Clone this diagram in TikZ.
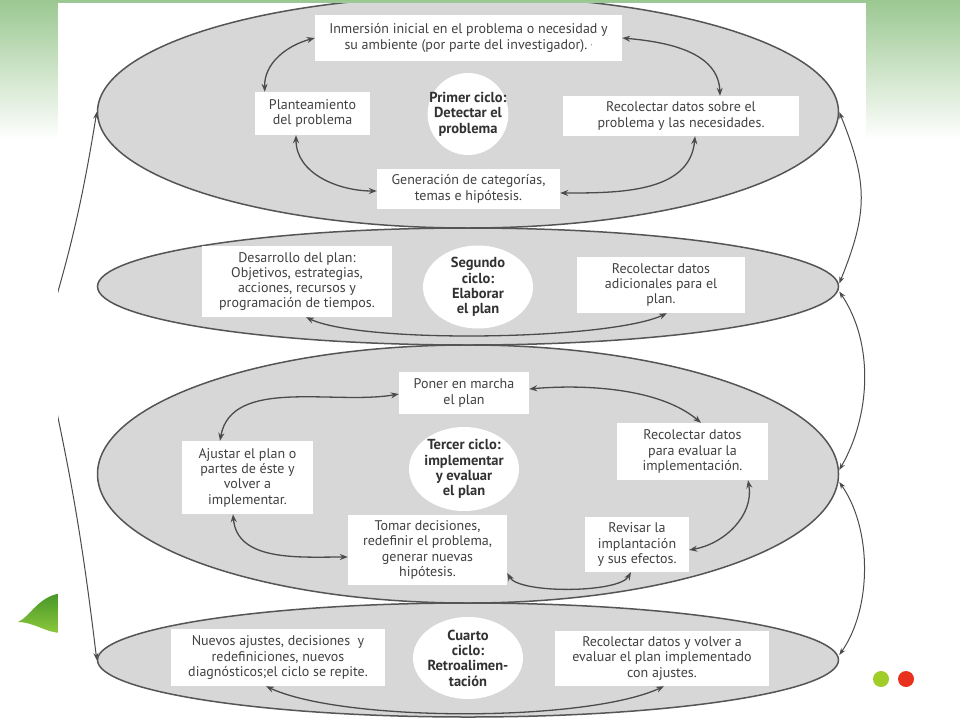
\documentclass[tikz,border=0pt]{standalone}
\usepackage{fontspec}
\setmainfont{PT Sans}
\usetikzlibrary{shapes.geometric,arrows.meta}
\definecolor{verdeslide}{RGB}{155,200,145}
\definecolor{folhaclara}{RGB}{140,200,60}
\definecolor{folhaescura}{RGB}{70,150,40}
\definecolor{bolaverde}{RGB}{160,205,40}
\definecolor{bolavermelha}{RGB}{232,50,30}
\definecolor{cinzaelipse}{RGB}{215,215,215}
\definecolor{cinzalinha}{RGB}{85,85,85}
\definecolor{cinzaseta}{RGB}{75,75,75}
\definecolor{cinzatexto}{RGB}{65,65,65}
\definecolor{cinzaforte}{RGB}{50,50,50}
\begin{document}
\begin{tikzpicture}[x=1pt,y=1pt,
    elipse/.style={ellipse,fill=cinzaelipse,draw=cinzalinha,line width=1.5pt,inner sep=0pt,minimum width=741pt},
    caixa/.style={rectangle,fill=white,inner sep=0pt,align=center,text=cinzatexto,font=\fontsize{14}{15.3}\selectfont},
    ciclo/.style={ellipse,fill=white,inner xsep=-10pt,inner ysep=-8pt,align=center,text=cinzaforte,font=\fontsize{14.5}{15.3}\selectfont\bfseries},
    seta/.style={<->,>={Stealth[length=8pt,width=6pt]},line width=1.3pt,draw=cinzaseta},
    volta/.style={<->,>={Stealth[length=7pt,width=5pt]},line width=1pt,draw=cinzaseta}]
    \useasboundingbox (0,0) rectangle (960,-720);
    % Fundo do slide
    \shade[top color=verdeslide,bottom color=white] (0,0) rectangle (960,-140);
    \shade[top color=folhaescura,bottom color=folhaclara] (18,-622) .. controls (30,-617) and (38,-596) .. (62,-593) -- (62,-633) .. controls (46,-633) and (34,-622) .. cycle;
    \fill[bolaverde] (881,-679) circle (8);
    \fill[bolavermelha] (906,-679) circle (8);
    \fill[white] (58,-3) rectangle (866,-720);
    \begin{scope}
    \clip (58,-3) rectangle (866,-720);
    % Define os ciclos
    \node[elipse,minimum height=232pt] (C1) at (468,-112) {};
    \node[elipse,minimum height=117pt] (C2) at (468,-286.5) {};
    \node[elipse,minimum height=258pt] (C3) at (468,-474) {};
    \node[elipse,minimum height=114pt] (C4) at (468,-660) {};
    \coordinate (Esq) at (42,-345);
    % Primer ciclo
    \node[caixa,minimum width=307pt,minimum height=46pt] (Inm) at (468.5,-38) {Inmersión inicial en el problema o necesidad y\\ su ambiente (por parte del investigador).~{\scriptsize'}};
    \node[caixa,minimum width=115pt,minimum height=43pt] (Pla) at (312.5,-113.5) {Planteamiento\\ del problema};
    \node[ciclo,minimum width=79pt,minimum height=82pt] (Pri) at (468,-114) {Primer ciclo:\\ Detectar el\\ problema};
    \node[caixa,minimum width=236pt,minimum height=40pt] (RecA) at (681,-116) {Recolectar datos sobre el\\ problema y las necesidades.};
    \node[caixa,minimum width=183pt,minimum height=40pt] (Gen) at (468.5,-189) {Generación de categorías,\\ temas e hipótesis.};
    % Segundo ciclo
    \node[caixa,minimum width=190pt,minimum height=71pt] (Des) at (297,-281.5) {Desarrollo del plan:\\ Objetivos, estrategias,\\ acciones, recursos y\\ programación de tiempos.};
    \node[ciclo,minimum width=110pt,minimum height=83pt] (Seg) at (478,-287) {Segundo\\ ciclo:\\ Elaborar\\ el plan};
    \node[caixa,minimum width=168pt,minimum height=56pt] (RecB) at (661,-285) {Recolectar datos\\ adicionales para el\\ plan.};
    % Tercer ciclo
    \node[caixa,minimum width=130pt,minimum height=42pt] (Pon) at (464,-393) {Poner en marcha\\ el plan};
    \node[ciclo,minimum width=110pt,minimum height=84pt] (Ter) at (464,-469) {Tercer ciclo:\\ implementar\\ y evaluar\\ el plan};
    \node[caixa,minimum width=151pt,minimum height=57pt] (RecC) at (692.5,-451.5) {Recolectar datos\\ para evaluar la\\ implementación.};
    \node[caixa,minimum width=131pt,minimum height=73pt] (Aju) at (247.5,-477.5) {Ajustar el plan o\\ partes de éste y\\ volver a\\ implementar.};
    \node[caixa,minimum width=159pt,minimum height=70pt] (Tom) at (427.5,-550) {Tomar decisiones,\\ redefinir el problema,\\ generar nuevas\\ hipótesis.};
    \node[caixa,minimum width=104pt,minimum height=55pt] (Rev) at (637,-544.5) {Revisar la\\ implantación\\ y sus efectos.};
    % Cuarto ciclo
    \node[caixa,minimum width=214pt,minimum height=57pt] (Nue) at (278,-657.5) {Nuevos ajustes, decisiones~ y\\ redefiniciones, nuevos\\ diagnósticos;el ciclo se repite.};
    \node[ciclo,minimum width=110pt,minimum height=82pt] (Cua) at (468,-658) {Cuarto\\ ciclo:\\ Retroalimen-\\ tación};
    \node[caixa,minimum width=214pt,minimum height=55pt] (RecD) at (662,-658.5) {Recolectar datos y volver a\\ evaluar el plan implementado\\ con ajustes.};
    % Conecta nos
    \draw[seta] ([xshift=10pt]Pla.north west) to[out=92,in=195] (Inm.west);
    \draw[seta] (Inm.east) to[out=-5,in=92] ([xshift=39pt]RecA.north);
    \draw[seta] ([xshift=14pt]RecA.south) to[out=-95,in=0] ([yshift=-4pt]Gen.east);
    \draw[seta] ([yshift=-2pt]Gen.west) to[out=180,in=-90] ([xshift=-16.5pt]Pla.south);
    \draw[seta] ([xshift=9pt]Des.south) to[out=-25,in=-155,looseness=0.45] ([xshift=6pt]RecB.south);
    \draw[seta] ([xshift=-27.5pt]Aju.north) to[out=80,in=190,looseness=0.9] ([yshift=-1pt]Pon.west);
    \draw[seta] ([yshift=4pt]Pon.east) to[out=5,in=140,looseness=0.8] ([xshift=8.5pt]RecC.north);
    \draw[seta] ([xshift=55.5pt]RecC.south) to[out=-80,in=10] ([yshift=-5.5pt]Rev.east);
    \draw[seta] ([xshift=-6pt]Rev.south) to[out=-120,in=-60,looseness=0.5] ([yshift=-23pt]Tom.east);
    \draw[seta] ([xshift=-14.5pt]Aju.south) to[out=-85,in=180] ([yshift=-7pt]Tom.west);
    \draw[seta] ([xshift=-12pt]Nue.south) to[out=-25,in=-155,looseness=0.55] ([xshift=2pt]RecD.south);
    % Conecta ciclos
    \draw[volta] (C1.west) to[bend left=4] (Esq) to[bend left=3] (C4.west);
    \draw[volta] (C1.east) to[out=-68,in=68,looseness=1.15] ([yshift=3pt]C2.east);
    \draw[volta] ([yshift=-5pt]C2.east) to[out=-56,in=60,looseness=0.9] ([yshift=4pt]C3.east);
    \draw[volta] ([yshift=-8pt]C3.east) to[out=-55,in=55,looseness=0.85] ([yshift=5pt]C4.east);
    \end{scope}
\end{tikzpicture}
\end{document}
